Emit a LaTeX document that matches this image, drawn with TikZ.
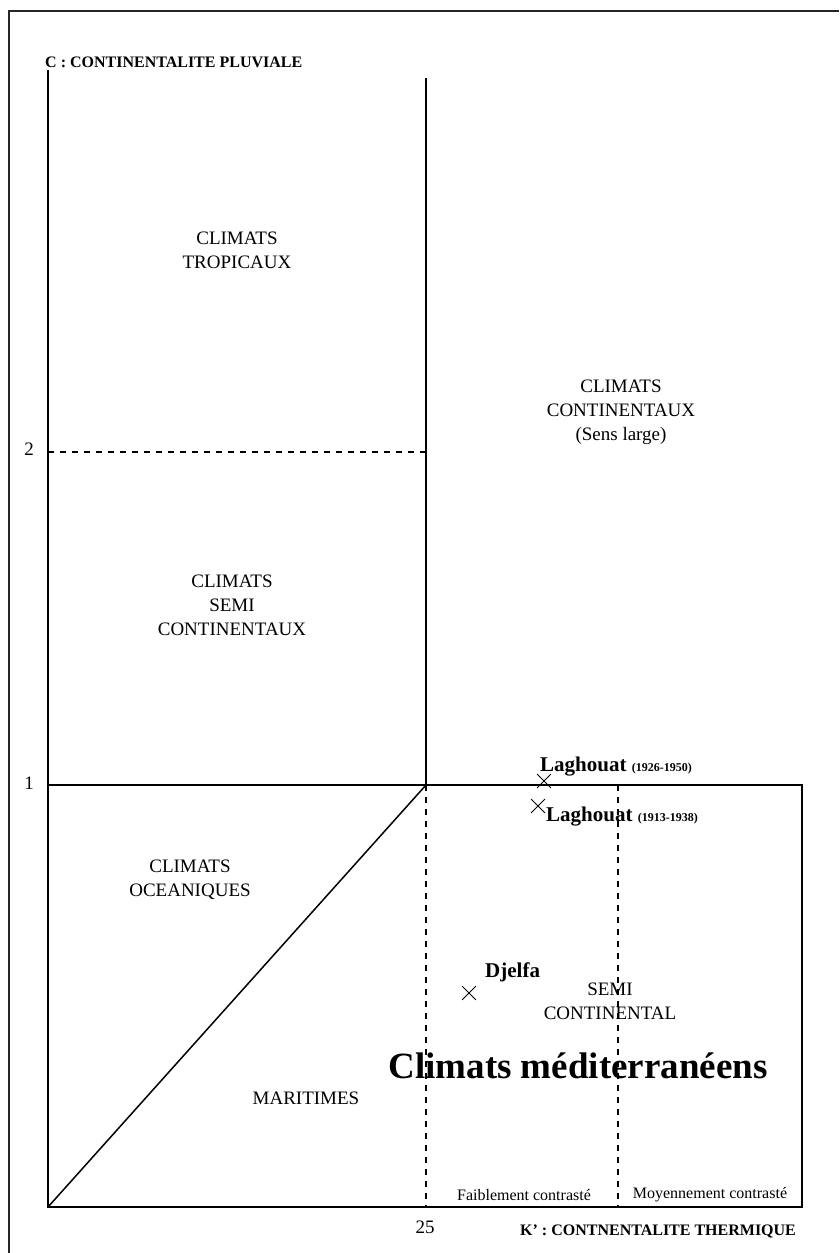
\documentclass[tikz,border=0pt]{standalone}
\usepackage{fontspec}
\setmainfont{Liberation Serif}
\usetikzlibrary{shapes.misc}
\begin{document}
\begin{tikzpicture}[x=1pt,y=-1pt,
  frameline/.style={line width=1.8pt,black!85},
  axisline/.style={line width=1.5pt},
  dashline/.style={line width=1.3pt,dash pattern=on 6pt off 6pt},
  body/.style={font=\fontsize{19}{24}\selectfont,align=center,inner sep=0pt},
  axlab/.style={font=\bfseries\fontsize{16}{19}\selectfont,inner sep=0pt},
  small/.style={font=\fontsize{16}{19}\selectfont,inner sep=0pt},
  stn/.style={font=\bfseries\fontsize{21}{24}\selectfont,inner sep=0pt},
  xmark/.style={cross out,draw,line width=0.8pt,minimum size=13pt,inner sep=0pt}]
\useasboundingbox (0,0) rectangle (839,1253);
% frame
\coordinate (FB) at (9,1253);
\coordinate (FTL) at (9,11);
\coordinate (FTR) at (839,11);
\draw[frameline] (FB) -- (FTL) -- (FTR);
% axes and grid
\coordinate (O) at (48,1207);
\coordinate (Ytop) at (48,70);
\coordinate (Xend) at (802,1207);
\coordinate (P2) at (48,452);
\coordinate (Q2) at (426,452);
\coordinate (P1) at (48,785);
\coordinate (Q1) at (426,785);
\coordinate (R1) at (802,785);
\coordinate (Vtop) at (426,78);
\coordinate (V25) at (426,1207);
\coordinate (M1) at (618,785);
\coordinate (M0) at (618,1207);
\draw[axisline] (Ytop) -- (O) -- (Xend) -- (R1) -- (P1);
\draw[axisline] (Vtop) -- (Q1);
\draw[axisline] (O) -- (Q1);
\draw[dashline] (P2) -- (Q2);
\draw[dashline] (Q1) -- (V25);
\draw[dashline] (M1) -- (M0);
% axis labels
\node[axlab,anchor=west] (ylab) at (45,62) {C : CONTINENTALITE PLUVIALE};
\node[axlab,anchor=west] (xlab) at (520,1231) {K’ : CONTNENTALITE THERMIQUE};
\node[body,anchor=east] (t2) at (34,449) {2};
\node[body,anchor=east] (t1) at (34,783) {1};
\node[body] (t25) at (425,1227) {25};
% zone labels
\node[body] (trop) at (237,250) {CLIMATS\\TROPICAUX};
\node[body] (cont) at (621,412) {CLIMATS\\CONTINENTAUX\\(Sens large)};
\node[body] (semi) at (232,605) {CLIMATS\\SEMI\\CONTINENTAUX};
\node[body] (ocea) at (190,880) {CLIMATS\\OCEANIQUES};
\node[body] (mari) at (306,1098) {MARITIMES};
\node[body] (semic) at (610,1001) {SEMI\\CONTINENTAL};
\node[font=\bfseries\fontsize{37}{40}\selectfont,inner sep=0pt] (med) at (578,1066) {Climats méditerranéens};
\node[small] (faib) at (524,1195) {Faiblement contrasté};
\node[small] (moy) at (710,1195) {Moyennement contrasté};
% stations
\node[xmark] (xl1) at (544,781) {};
\node[stn,anchor=base west] (l1) at (540,771) {Laghouat \textnormal{\bfseries\fontsize{12}{14}\selectfont (1926-1950)}};
\node[xmark] (xl2) at (538,806) {};
\node[stn,anchor=base west] (l2) at (546,821) {Laghouat \textnormal{\bfseries\fontsize{12}{14}\selectfont (1913-1938)}};
\node[xmark] (xdj) at (469,993) {};
\node[stn,anchor=base west] (dj) at (485,977) {Djelfa};
\end{tikzpicture}
\end{document}
